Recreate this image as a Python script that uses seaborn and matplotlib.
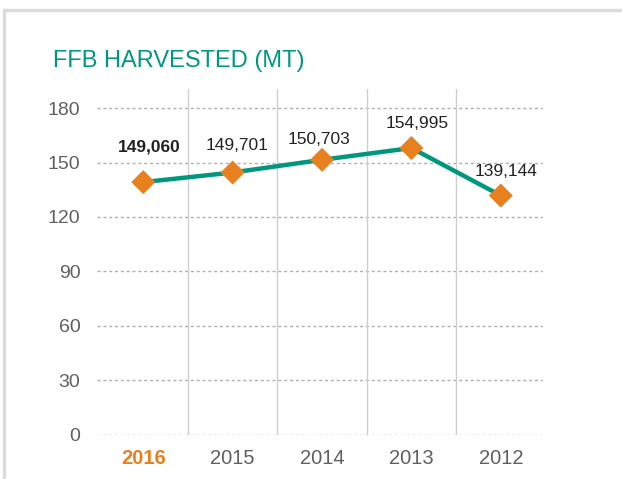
import matplotlib
matplotlib.use("Agg")
import matplotlib.pyplot as plt
from matplotlib.lines import Line2D
import seaborn as sns
import pandas as pd

# ---- data ----
years = ["2016", "2015", "2014", "2013", "2012"]
plotted_values = [139.2, 144.5, 151.5, 158.0, 131.8]   # in '000 MT as drawn
value_labels = ["149,060", "149,701", "150,703", "154,995", "139,144"]
y_ticks = [0, 30, 60, 90, 120, 150, 180]

title = "FFB HARVESTED (MT)"
teal = "#00977f"
orange = "#e8801f"
gray_text = "#606060"

sns.set_theme(style="white")
plt.rcParams['font.family'] = ['Liberation Sans', 'DejaVu Sans']

df = pd.DataFrame({"year": years, "value": plotted_values})

fig = plt.figure(figsize=(6.22, 4.79), dpi=100)
ax = fig.add_axes([0.156, 0.0925, 0.717, 0.722])

# grid
for t in y_ticks:
    ax.axhline(t, color="#b0b0b0", lw=1, linestyle=(0, (2.2, 2.0)), zorder=0)
for xv in [0.5, 1.5, 2.5, 3.5]:
    ax.axvline(xv, color="#cfcfcf", lw=1, zorder=0)

sns.lineplot(data=df, x="year", y="value", sort=False, color=teal, lw=3.2, ax=ax, zorder=2)
sns.scatterplot(data=df, x="year", y="value", marker="D", color=orange, s=150,
                edgecolor="none", ax=ax, zorder=3)

# data labels (offsets in points)
offsets = [(4, 20), (3, 14), (-2, 9), (4, 12), (4, 12)]
for i, (lab, v) in enumerate(zip(value_labels, plotted_values)):
    bold = (i == 0)
    ax.annotate(lab, (i, v), xytext=offsets[i], textcoords="offset points",
                ha="center", va="bottom", fontsize=12.5,
                fontweight="bold" if bold else "normal", color="#222222")

ax.set_xlim(-0.517, 4.472)
ax.set_ylim(0, 190.6)
ax.set_yticks(y_ticks)
ax.set_yticklabels([str(t) for t in y_ticks], fontsize=14, color=gray_text)
ax.set_xticks(range(len(years)))
ax.set_xticklabels(years, fontsize=14.5, color=gray_text)
xl = ax.get_xticklabels()
xl[0].set_color(orange)
xl[0].set_fontweight("bold")
ax.tick_params(axis="y", length=0, pad=12)
ax.tick_params(axis="x", length=0, pad=10)
ax.set_xlabel("")
ax.set_ylabel("")
for s in ax.spines.values():
    s.set_visible(False)

# title
fig.text(53 / 622, 1 - 67 / 479, title, color=teal, fontsize=17,
         ha="left", va="baseline")

# frame lines (top and left)
fig.add_artist(Line2D([4 / 622, 1], [1 - 10 / 479, 1 - 10 / 479], color="#dcdcdc", lw=2.5,
                      transform=fig.transFigure))
fig.add_artist(Line2D([4 / 622, 4 / 622], [0, 1 - 10 / 479], color="#dcdcdc", lw=2.5,
                      transform=fig.transFigure))

fig.savefig("out.png", dpi=100)
